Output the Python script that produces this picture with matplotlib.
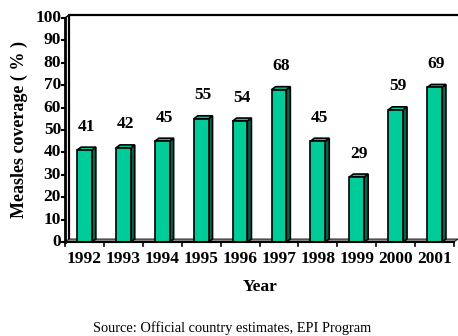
import matplotlib
matplotlib.use("Agg")
import matplotlib.pyplot as plt
from matplotlib.patches import Polygon

years = ["1992", "1993", "1994", "1995", "1996", "1997", "1998", "1999", "2000", "2001"]
coverage = [41, 42, 45, 55, 54, 68, 45, 29, 59, 69]
y_ticks = [0, 10, 20, 30, 40, 50, 60, 70, 80, 90, 100]

front_col = "#00CC99"
side_col = "#006650"
floor_col = "#8C8C8C"

plt.rcParams["font.family"] = ["Liberation Serif", "DejaVu Serif"]

fig = plt.figure(figsize=(4.58, 3.36), dpi=100)
W, H = 458, 336
left, right, bottom, top = 65, 454, 242, 18
ax = fig.add_axes([left / W, 1 - bottom / H, (right - left) / W, (bottom - top) / H])
n = len(years)
ax.set_xlim(0, n)
ax.set_ylim(0, 100)
ax.axis("off")

# depth offset of the pseudo-3D look, in data units
dx = 4 / ((right - left) / n)
dy = 3 / ((bottom - top) / 100)

# floor
ax.add_patch(Polygon([(0, 0), (n, 0), (n + dx, dy), (dx, dy)], closed=True,
                     facecolor=floor_col, edgecolor="black", lw=0.6, clip_on=False, zorder=2))

# back wall edges
ax.plot([dx, dx, n + dx * 1.3], [dy, 100 + dy, 100 + dy], color="black", lw=1.6,
        clip_on=False, zorder=1, solid_joinstyle="miter")
ax.plot([0, dx], [100, 100 + dy], color="black", lw=1, clip_on=False, zorder=1)

# front axes
ax.plot([0, 0], [0, 100], color="black", lw=2, clip_on=False, zorder=5)
ax.plot([0, n], [0, 0], color="black", lw=1.5, clip_on=False, zorder=5)
for t in y_ticks:
    ax.plot([-0.08, 0], [t, t], color="black", lw=1.5, clip_on=False, zorder=5)
    ax.text(-0.1, t, str(t), ha="right", va="center", fontsize=12.5, fontweight="bold")
for k in range(n + 1):
    ax.plot([k, k], [0, -1.8], color="black", lw=1.2, clip_on=False, zorder=5)

bw = 0.38
for i, (yr, v) in enumerate(zip(years, coverage)):
    x0 = i + 0.5 - bw / 2
    x1 = x0 + bw
    ax.add_patch(Polygon([(x1, 0), (x1 + dx, dy), (x1 + dx, v + dy), (x1, v)], closed=True,
                         facecolor=side_col, edgecolor="black", lw=1.2, clip_on=False, zorder=3))
    ax.add_patch(Polygon([(x0, v), (x1, v), (x1 + dx, v + dy), (x0 + dx, v + dy)], closed=True,
                         facecolor=front_col, edgecolor="black", lw=1.2, clip_on=False, zorder=3))
    ax.add_patch(Polygon([(x0, 0), (x1, 0), (x1, v), (x0, v)], closed=True,
                         facecolor=front_col, edgecolor="black", lw=1.2, clip_on=False, zorder=4))
    ax.text(i + 0.55, v + 10.5, str(v), ha="center", va="center", fontsize=12.5, fontweight="bold")
    ax.text(i + 0.5, -7.8, yr, ha="center", va="center", fontsize=12.5, fontweight="bold")

fig.text(260 / W, 1 - 287 / H, "Year", ha="center", va="center", fontsize=12.5, fontweight="bold")
fig.text(19 / W, 1 - 130 / H, "Measles coverage ( % )", ha="center", va="center", rotation=90,
         fontsize=13, fontweight="bold")
fig.text(232 / W, 1 - 328 / H, "Source: Official country estimates, EPI Program",
         ha="center", va="center", fontsize=10.4)

fig.savefig("out.png", dpi=100)
